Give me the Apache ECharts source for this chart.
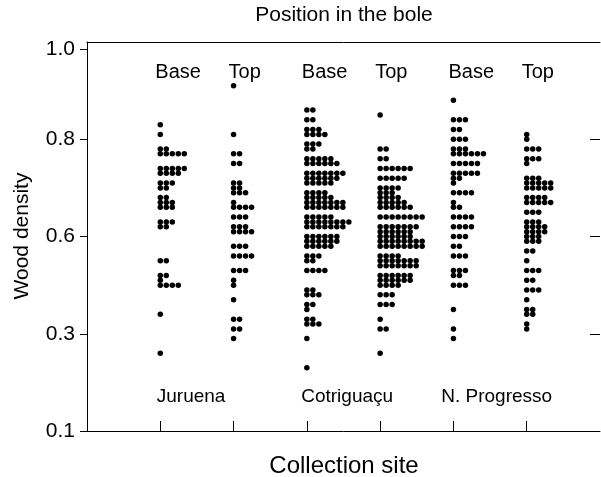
<!DOCTYPE html>
<html>
<head>
<meta charset="utf-8">
<script src="https://cdn.jsdelivr.net/npm/echarts@6/dist/echarts.min.js"></script>
<style>
html,body{margin:0;padding:0;background:#fff;}
#chart{width:601px;height:477px;}
</style>
</head>
<body>
<div id="chart"></div>
<script>
// Categories (groups, left to right)
const groupNames = ['Juruena Base','Juruena Top','Cotriguaçu Base','Cotriguaçu Top','N. Progresso Base','N. Progresso Top'];
const siteNames = ['Juruena','Cotriguaçu','N. Progresso'];
const positionNames = ['Base','Top'];

// Series values: [wood density (axis units), number of stacked dots]
const juruenaBase = [[0.83,1],[0.81,1],[0.78,2],[0.77,5],[0.74,5],[0.73,4],[0.71,3],[0.70,2],[0.68,2],[0.67,3],[0.66,3],[0.63,3],[0.62,2],[0.55,2],[0.52,2],[0.51,1],[0.50,4],[0.44,1],[0.36,1]];
const juruenaTop = [[0.91,1],[0.81,1],[0.77,2],[0.75,2],[0.71,2],[0.70,2],[0.69,3],[0.67,1],[0.66,4],[0.64,3],[0.62,3],[0.61,4],[0.58,3],[0.56,4],[0.53,3],[0.51,1],[0.50,1],[0.47,1],[0.43,2],[0.41,2],[0.39,1]];
const cotriguacuBase = [[0.86,2],[0.84,2],[0.82,3],[0.81,4],[0.79,3],[0.78,2],[0.76,5],[0.75,6],[0.73,7],[0.72,6],[0.71,5],[0.69,4],[0.68,5],[0.67,7],[0.66,7],[0.64,5],[0.63,8],[0.62,7],[0.60,6],[0.59,6],[0.58,5],[0.56,3],[0.55,2],[0.53,4],[0.49,2],[0.48,3],[0.46,2],[0.45,1],[0.43,2],[0.42,3],[0.39,1],[0.33,1]];
const cotriguacuTop = [[0.85,1],[0.78,2],[0.76,2],[0.74,6],[0.72,5],[0.70,4],[0.69,3],[0.68,4],[0.67,5],[0.66,6],[0.64,8],[0.62,7],[0.61,6],[0.60,6],[0.59,8],[0.58,8],[0.56,4],[0.55,7],[0.54,7],[0.52,6],[0.51,6],[0.50,4],[0.48,3],[0.46,3],[0.43,1],[0.41,2],[0.36,1]];
const progressoBase = [[0.88,1],[0.84,3],[0.82,2],[0.80,3],[0.78,3],[0.77,6],[0.75,5],[0.73,5],[0.72,2],[0.71,1],[0.69,4],[0.67,1],[0.66,2],[0.64,4],[0.62,4],[0.60,3],[0.58,2],[0.56,3],[0.53,3],[0.52,2],[0.50,3],[0.45,1],[0.41,1],[0.39,1]];
const progressoTop = [[0.81,1],[0.80,1],[0.78,3],[0.76,3],[0.75,1],[0.72,3],[0.71,5],[0.70,5],[0.68,4],[0.67,5],[0.65,3],[0.63,3],[0.62,4],[0.61,4],[0.60,3],[0.59,3],[0.57,2],[0.55,1],[0.53,3],[0.51,2],[0.49,3],[0.47,1],[0.45,2],[0.44,2],[0.42,1],[0.41,1]];

// Tick labels of the density axis and the axis values they sit at
const yTickValues = [0.2, 0.4, 0.6, 0.8, 0.985];
const yTickLabels = ['0.1', '0.3', '0.6', '0.8', '1.0'];
const xTickValues = [1, 2, 3, 4, 5, 6];

const allGroups = [juruenaBase, juruenaTop, cotriguacuBase, cotriguacuTop, progressoBase, progressoTop];
const DOT_STEP = 6; // px between stacked dots

const points = [];
allGroups.forEach(function (grp, gi) {
  grp.forEach(function (row) {
    for (let k = 0; k < row[1]; k++) {
      points.push({ value: [gi + 1, row[0]], symbolOffset: [k * DOT_STEP, 0] });
    }
  });
});

const labelFont = 'Liberation Sans, Arial, sans-serif';
const chart = echarts.init(document.getElementById('chart'), null, { renderer: 'canvas' });

function yLabel(v) {
  for (let i = 0; i < yTickValues.length; i++) {
    if (Math.abs(v - yTickValues[i]) < 1e-6) return yTickLabels[i];
  }
  return '';
}

const option = {
  animation: false,
  backgroundColor: '#fff',
  grid: { left: 87, right: 1, top: 42, bottom: 46, containLabel: false },
  xAxis: [{
    type: 'value', min: 0, max: 7, position: 'bottom',
    axisLine: { show: true, onZero: false, lineStyle: { color: '#000', width: 1 } },
    axisTick: { show: true, inside: true, length: 10, customValues: xTickValues, lineStyle: { color: '#000' } },
    axisLabel: { show: false },
    splitLine: { show: false }
  }, {
    type: 'value', min: 0, max: 7, position: 'top',
    axisLine: { show: true, onZero: false, lineStyle: { color: '#000', width: 1 } },
    axisTick: { show: false }, axisLabel: { show: false }, splitLine: { show: false }
  }],
  yAxis: [{
    type: 'value', min: 0.2, max: 1.0, position: 'left',
    axisLine: { show: true, onZero: false, lineStyle: { color: '#000', width: 1 } },
    axisTick: { show: true, inside: false, length: 7, customValues: yTickValues, lineStyle: { color: '#000' } },
    axisLabel: { show: true, customValues: yTickValues, formatter: yLabel, color: '#000', fontSize: 21, fontFamily: labelFont, margin: 12 },
    splitLine: { show: false }
  }, {
    type: 'value', min: 0.2, max: 1.0, position: 'right',
    axisLine: { show: true, onZero: false, lineStyle: { color: 'rgba(0,0,0,0)', width: 1 } },
    axisTick: { show: true, inside: true, length: 10, customValues: [0.4, 0.6, 0.8], lineStyle: { color: '#000', width: 1 } },
    axisLabel: { show: false }, splitLine: { show: false }
  }],
  series: [{
    type: 'scatter',
    xAxisIndex: 0, yAxisIndex: 0,
    symbol: 'circle', symbolSize: 5.5,
    itemStyle: { color: '#000', opacity: 1 },
    data: points
  }],
  graphic: []
};
chart.setOption(option);

// Text annotations placed through the axes
const g = [];
function px(x, y) { return chart.convertToPixel({ xAxisIndex: 0, yAxisIndex: 0 }, [x, y]); }
for (let i = 0; i < 6; i++) {
  const p = px(i + 1, 0.938);
  g.push({ type: 'text', x: p[0] - 5, y: p[1], style: { text: positionNames[i % 2], fill: '#000', font: '20px ' + labelFont, align: 'left', verticalAlign: 'middle' } });
}
const siteX = [1.42, 3.55, 5.59];
for (let s = 0; s < 3; s++) {
  const p = px(siteX[s], 0.27);
  g.push({ type: 'text', x: p[0], y: p[1], style: { text: siteNames[s], fill: '#000', font: '19px ' + labelFont, align: 'center', verticalAlign: 'middle' } });
}
g.push({ type: 'text', x: 344, y: 15, style: { text: 'Position in the bole', fill: '#000', font: '21px ' + labelFont, align: 'center', verticalAlign: 'middle' } });
g.push({ type: 'text', x: 344, y: 466, style: { text: 'Collection site', fill: '#000', font: '24px ' + labelFont, align: 'center', verticalAlign: 'middle' } });
g.push({ type: 'text', x: 22, y: 236, rotation: Math.PI / 2, style: { text: 'Wood density', fill: '#000', font: '21px ' + labelFont, align: 'center', verticalAlign: 'middle' } });
chart.setOption({ graphic: g });
</script>
</body>
</html>
